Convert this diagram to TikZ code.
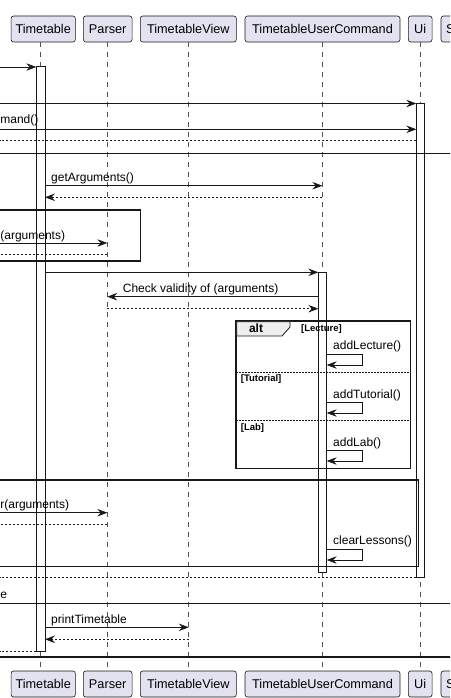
\documentclass[tikz,border=0pt]{standalone}
\usepackage{fontspec}
\setmainfont{Liberation Sans}
\usetikzlibrary{arrows.meta,calc}
\definecolor{pbox}{HTML}{E2E2F0}
\definecolor{ink}{HTML}{181818}
\definecolor{tabfill}{HTML}{EEEEEE}
\begin{document}
\begin{tikzpicture}[x=1pt,y=-1pt,
  part/.style={draw=ink, fill=pbox, rounded corners=2.5pt, line width=0.6pt, minimum height=26pt, inner sep=0pt, font=\fontsize{12.7}{14}\selectfont},
  life/.style={draw=ink!75, line width=0.5pt, dash pattern=on 5pt off 5pt},
  act/.style={draw=ink, fill=white, line width=0.7pt},
  msg/.style={draw=ink, line width=0.7pt, -{Stealth[length=10pt,width=7.5pt,inset=3.5pt]}},
  ret/.style={msg, dash pattern=on 2pt off 2pt},
  retn/.style={draw=ink, line width=0.7pt, dash pattern=on 2pt off 2pt},
  lbl/.style={font=\fontsize{12}{14}\selectfont, inner sep=0pt},
  frm/.style={draw=ink, line width=1.5pt},
  grd/.style={font=\bfseries\fontsize{9.5}{11}\selectfont, inner sep=0pt},
  sep/.style={draw=ink, line width=0.6pt, dash pattern=on 1.5pt off 1.5pt},
]
\useasboundingbox (0,0) rectangle (450,698);
\clip (0,0) rectangle (450,698);

% lifeline x positions
\coordinate (Lt) at (40.7,0);
\coordinate (Lp) at (107.3,0);
\coordinate (Lv) at (188.7,0);
\coordinate (Lc) at (322.3,0);
\coordinate (Lu) at (420.3,0);
\coordinate (Edge) at (0,0);

% participants top
\node[part, minimum width=64.3pt] (ttT) at (43.2,29) {Timetable};
\node[part, minimum width=48.7pt] (paT) at (107.7,29) {Parser};
\node[part, minimum width=96pt] (tvT) at (188.3,29) {TimetableView};
\node[part, minimum width=155pt] (tcT) at (322.5,29) {TimetableUserCommand};
\node[part, minimum width=23.7pt] (uiT) at (420.2,29) {Ui};
\node[part, minimum width=40pt] (sT) at (461,29) {};
\node[font=\fontsize{12.7}{14}\selectfont, inner sep=0pt, anchor=west] (sTt) at (446,29) {S};
% participants bottom
\node[part, minimum width=64.3pt] (ttB) at (43.2,684) {Timetable};
\node[part, minimum width=48.7pt] (paB) at (107.7,684) {Parser};
\node[part, minimum width=96pt] (tvB) at (188.3,684) {TimetableView};
\node[part, minimum width=155pt] (tcB) at (322.5,684) {TimetableUserCommand};
\node[part, minimum width=23.7pt] (uiB) at (420.2,684) {Ui};
\node[part, minimum width=40pt] (sB) at (461,684) {};
\node[font=\fontsize{12.7}{14}\selectfont, inner sep=0pt, anchor=west] (sBt) at (446,684) {S};

% lifelines
\draw[life] (Lt |- ttT.south) -- (Lt |- ttB.north);
\draw[life] (Lp |- paT.south) -- (Lp |- paB.north);
\draw[life] (Lv |- tvT.south) -- (Lv |- tvB.north);
\draw[life] (Lc |- tcT.south) -- (Lc |- tcB.north);
\draw[life] (Lu |- uiT.south) -- (Lu |- uiB.north);

% activation bars
\draw[act] (36.3,66.7) rectangle (45,651);
\coordinate (aTl) at (36.3,0); \coordinate (aTr) at (45,0);
\draw[act] (416.3,103.3) rectangle (424.3,577.7);
\coordinate (aUl) at (416.3,0);
\draw[act] (318.3,272.3) rectangle (326.7,572.7);
\coordinate (aCl) at (318.3,0); \coordinate (aCr) at (326.7,0);
\coordinate (selfx) at (362.3,0);

% outer frame lines
\draw[draw=ink, line width=1.7pt] (-5,153.5) -- (455,153.5);
\draw[draw=ink, line width=0.8pt] (-5,603.3) -- (455,603.3);
\draw[draw=ink, line width=1.7pt] (-5,657.3) -- (455,657.3);

% frame B
\draw[frm] (-5,210) rectangle (140.7,261);
% frame C
\draw[frm] (-5,480) rectangle (418.3,566.7);

% alt frame
\draw[frm] (236,321) rectangle (410.7,468.3);
\draw[draw=ink, line width=0.8pt, fill=tabfill] (236.7,321.7) -- (290,321.7) -- (290,327) -- (282,336) -- (236.7,336) -- cycle;
\draw[sep] (236,372.3) -- (410.7,372.3);
\draw[sep] (236,420.7) -- (410.7,420.7);

% messages
\draw[msg] (Edge |- 0,67) -- (aTl |- 0,67);
\draw[msg] (Edge |- 0,103.5) -- (aUl |- 0,103.5);
\draw[msg] (Edge |- 0,129.3) -- (aUl |- 0,129.3);
\node[lbl, anchor=west] (l1) at (0.2,120) {mand()};
\draw[retn] (aUl |- 0,140.7) -- (Edge |- 0,140.7);

\draw[msg] (aTr |- 0,185.7) -- (Lc |- 0,185.7);
\node[lbl, anchor=west] (l2) at (51,178.3) {getArguments()};
\draw[ret] (Lc |- 0,197.3) -- (aTr |- 0,197.3);

\draw[msg] (Edge |- 0,243) -- (Lp |- 0,243);
\node[lbl, anchor=west] (l3) at (0.2,236) {(arguments)};
\draw[retn] (Lp |- 0,254.7) -- (Edge |- 0,254.7);

\draw[msg] (aTr |- 0,272.3) -- (aCl |- 0,272.3);
\draw[msg] (aCl |- 0,296.7) -- (Lp |- 0,296.7);
\node[lbl, anchor=west] (l4) at (122.7,289.3) {Check validity of (arguments)};
\draw[ret] (Lp |- 0,308.7) -- (aCl |- 0,308.7);

% self calls
\draw[msg] (aCr |- 0,354.7) -- (selfx |- 0,354.7) -- (selfx |- 0,365) -- (aCr |- 0,365);
\node[lbl, anchor=west] (l5) at (333,346.7) {addLecture()};
\draw[msg] (aCr |- 0,402.7) -- (selfx |- 0,402.7) -- (selfx |- 0,413) -- (aCr |- 0,413);
\node[lbl, anchor=west] (l6) at (333,395) {addTutorial()};
\draw[msg] (aCr |- 0,450.7) -- (selfx |- 0,450.7) -- (selfx |- 0,461) -- (aCr |- 0,461);
\node[lbl, anchor=west] (l7) at (333,443.3) {addLab()};

\draw[msg] (Edge |- 0,512.7) -- (Lp |- 0,512.7);
\node[lbl, anchor=west] (l8) at (0.2,505) {r(arguments)};
\draw[retn] (Lp |- 0,524) -- (Edge |- 0,524);

\draw[msg] (aCr |- 0,549.3) -- (selfx |- 0,549.3) -- (selfx |- 0,560) -- (aCr |- 0,560);
\node[lbl, anchor=west] (l9) at (333,541.7) {clearLessons()};

\draw[retn] (aUl |- 0,577.7) -- (Edge |- 0,577.7);
\node[lbl, anchor=west] (l10) at (0.2,595.7) {e};

\draw[msg] (aTr |- 0,627.3) -- (Lv |- 0,627.3);
\node[lbl, anchor=west] (l11) at (51,620.3) {printTimetable};
\draw[ret] (Lv |- 0,639.3) -- (aTr |- 0,639.3);
\draw[retn] (aTl |- 0,651) -- (Edge |- 0,651);

% group labels
\node[font=\bfseries\fontsize{12}{14}\selectfont, inner sep=0pt] (galt) at (256,328.5) {alt};
\node[grd, anchor=west] (g1) at (301,329) {[Lecture]};
\node[grd, anchor=west] (g2) at (240.7,379.5) {[Tutorial]};
\node[grd, anchor=west] (g3) at (240.7,428) {[Lab]};
\end{tikzpicture}
\end{document}
